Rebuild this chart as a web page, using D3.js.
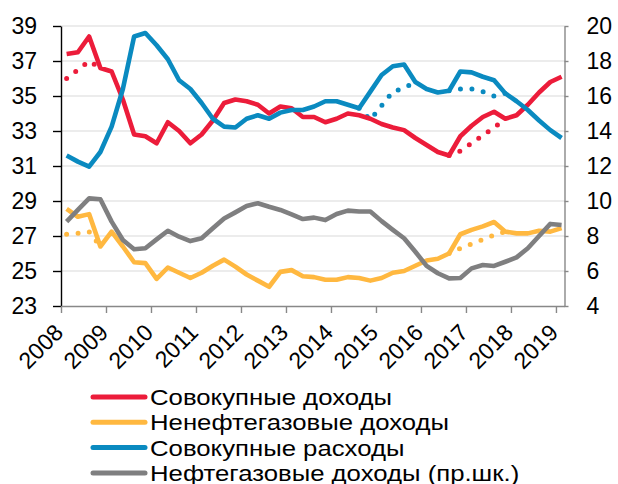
<!DOCTYPE html>
<html>
<head>
<meta charset="utf-8">
<script src="https://cdn.jsdelivr.net/npm/d3@7"></script>
<style>
	body { margin: 0; background: #fff; }
	svg { display: block; }
	text { font-family: "Liberation Sans", Arial, sans-serif; fill: #000; }
</style>
</head>
<body>
<div id="chart"></div>
<script>
// quarterly values, Q1 2008 .. Q1 2019
const years = d3.range(2008, 2020)

const totalRevenue = [37.4, 37.5, 38.4, 36.6, 36.4, 34.8, 32.8, 32.7, 32.3, 33.5, 33.0, 32.3, 32.8, 33.6, 34.6,
	34.8, 34.7, 34.5, 34.0, 34.4, 34.3, 33.8, 33.8, 33.5, 33.7, 34.0, 33.9, 33.7, 33.4, 33.2,
	33.05, 32.6, 32.2, 31.8, 31.6, 32.7, 33.3, 33.8, 34.1, 33.7, 33.9, 34.5, 35.2, 35.8, 36.1]
const nonOilRevenue = [28.55, 28.1, 28.25, 26.4, 27.25, 26.4, 25.5, 25.45, 24.55, 25.2, 24.9, 24.6, 24.9, 25.3, 25.65,
	25.25, 24.8, 24.45, 24.1, 24.95, 25.05, 24.7, 24.65, 24.5, 24.5, 24.65, 24.6, 24.45, 24.6, 24.9,
	25.0, 25.3, 25.6, 25.7, 26.0, 27.1, 27.35, 27.55, 27.8, 27.25, 27.15, 27.15, 27.3, 27.25, 27.45]
const totalSpending = [31.6, 31.25, 30.96, 31.8, 33.25, 35.4, 38.4, 38.6, 37.9, 37.1, 35.9, 35.4, 34.6, 33.7, 33.25,
	33.2, 33.7, 33.9, 33.7, 34.05, 34.2, 34.2, 34.4, 34.7, 34.7, 34.5, 34.3, 35.25, 36.2, 36.7,
	36.8, 35.8, 35.4, 35.2, 35.3, 36.4, 36.35, 36.1, 35.9, 35.15, 34.7, 34.2, 33.6, 33.05, 32.6]
const oilRevenue = [8.82, 9.49, 10.15, 10.1, 8.82, 7.77, 7.24, 7.3, 7.81, 8.3, 7.96, 7.71, 7.87, 8.44, 9.0,
	9.35, 9.71, 9.87, 9.67, 9.49, 9.24, 8.97, 9.05, 8.91, 9.26, 9.45, 9.4, 9.4, 8.85, 8.35,
	7.87, 7.1, 6.29, 5.87, 5.58, 5.6, 6.15, 6.34, 6.29, 6.53, 6.78, 7.3, 8.0, 8.69, 8.63]

// dotted variants (only where they differ)
const n = null
const totalRevenueDot = [36.0, 36.5, 37.0, 36.6, n, n, n, n, n, n, n, n, n, n, n,
	n, n, n, n, n, n, n, n, n, n, n, n, n, n, n,
	n, n, n, n, 31.6, 31.85, 32.3, 32.75, 33.2, 33.7, n, n, n, n, n]
const nonOilRevenueDot = [27.1, 27.15, 27.25, 26.4, n, n, n, n, n, n, n, n, n, n, n,
	n, n, n, n, n, n, n, n, n, n, n, n, n, n, n,
	n, n, n, n, 26.0, 26.3, 26.55, 26.8, 27.05, 27.25, n, n, n, n, n]
const totalSpendingDot = [n, n, n, n, n, n, n, n, n, n, n, n, n, n, n,
	n, n, n, n, n, n, n, n, n, n, n, 34.3, 33.65, 34.45, 35.25,
	35.45, 35.8, n, n, 35.3, 35.4, 35.4, 35.25, 35.0, 35.15, n, n, n, n, n]

const labels = ['Совокупные доходы', 'Ненефтегазовые доходы', 'Совокупные расходы', 'Нефтегазовые доходы (пр.шк.)']
const colors = ['#ec1c3a', '#ffb840', '#0a8ac0', '#7f7f80']

const width = 618, height = 484
const svg = d3.select('#chart').append('svg').attr('width', width).attr('height', height)

// scales
const x = d3.scaleLinear().domain([2008, 2019.19]).range([61, 564.5])
const yL = d3.scaleLinear().domain([23, 39]).range([306, 26])
const yR = d3.scaleLinear().domain([4, 20]).range([306, 26])
const dates = totalRevenue.map((d, i) => 2008 + (i + 0.5) / 4)

// gridlines
svg.append('g')
	.selectAll('line')
	.data(d3.range(25, 40, 2))
	.enter()
	.append('line')
	.attr('x1', x.range()[0])
	.attr('x2', x.range()[1])
	.attr('y1', d => yL(d))
	.attr('y2', d => yL(d))
	.style('stroke', '#ececec')
	.style('stroke-width', 2)

// axes
const axisLeft = svg.append('g')
	.attr('transform', 'translate(61,0)')
	.call(d3.axisLeft(yL).tickValues(d3.range(23, 40, 2)).tickSize(8).tickSizeOuter(0).tickPadding(16))
axisLeft.select('.domain').style('stroke', '#000').style('stroke-width', 1.4)
axisLeft.selectAll('.tick line').style('stroke', '#000').style('stroke-width', 1.4)

const axisRight = svg.append('g')
	.attr('transform', 'translate(564.5,0)')
	.call(d3.axisRight(yR).tickValues(d3.range(4, 21, 2)).tickSize(4).tickSizeOuter(0).tickPadding(18))
axisRight.select('.domain').style('stroke', '#888').style('stroke-width', 1.4)
axisRight.selectAll('.tick line').style('stroke', '#888').style('stroke-width', 1.4)

const axisBottom = svg.append('g')
	.attr('transform', 'translate(0,306)')
	.call(d3.axisBottom(x).tickValues(years).tickFormat(d3.format('d')).tickSize(7).tickSizeOuter(0))
axisBottom.select('.domain').style('stroke', '#888').style('stroke-width', 1.4)
axisBottom.selectAll('.tick line').style('stroke', '#888').style('stroke-width', 1.4)
axisBottom.selectAll('text')
	.attr('x', 0).attr('y', 0).attr('dy', 0)
	.attr('transform', 'translate(3,28) rotate(-45)')
	.style('text-anchor', 'end')

svg.selectAll('.tick text').style('font-size', '23px').style('fill', '#000')
svg.selectAll('.domain').attr('fill', 'none')

// lines
const lineL = d3.line().defined(d => d[1] != null).x(d => x(d[0])).y(d => yL(d[1]))
const lineR = d3.line().defined(d => d[1] != null).x(d => x(d[0])).y(d => yR(d[1]))
const pair = arr => arr.map((v, i) => [dates[i], v])

const dotted = [
	{values: totalRevenueDot, color: colors[0]},
	{values: nonOilRevenueDot, color: colors[1]},
	{values: totalSpendingDot, color: colors[2]}
]
svg.append('g')
	.selectAll('path')
	.data(dotted)
	.enter()
	.append('path')
	.attr('d', d => lineL(pair(d.values)))
	.style('fill', 'none')
	.style('stroke', d => d.color)
	.style('stroke-width', 5)
	.style('stroke-linecap', 'round')
	.style('stroke-dasharray', '0 11.5')

const solid = [
	{values: totalRevenue, line: lineL},
	{values: nonOilRevenue, line: lineL},
	{values: totalSpending, line: lineL},
	{values: oilRevenue, line: lineR}
]
svg.append('g')
	.selectAll('path')
	.data(solid)
	.enter()
	.append('path')
	.attr('d', d => d.line(pair(d.values)))
	.style('fill', 'none')
	.style('stroke', (d, i) => colors[i])
	.style('stroke-width', 4.6)
	.style('stroke-linejoin', 'round')

// legend (glyphs in the original are a bit wider than Arial, hence the x stretch)
const legend = svg.append('g')
	.selectAll('g')
	.data(labels)
	.enter()
	.append('g')
	.attr('transform', (d, i) => 'translate(0,' + (397 + i * 25.3) + ')')
legend.append('line')
	.attr('x1', 93).attr('x2', 145)
	.style('stroke', (d, i) => colors[i])
	.style('stroke-width', 5)
	.style('stroke-linecap', 'round')
legend.append('text')
	.attr('transform', 'translate(150,8) scale(1.17,1)')
	.style('font-size', '22px')
	.text(d => d)
</script>
</body>
</html>
